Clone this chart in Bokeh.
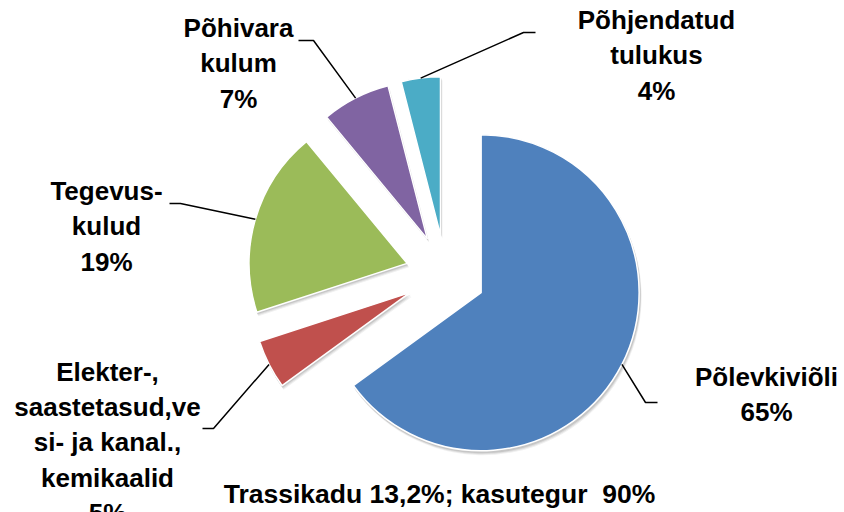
import numpy as np
from bokeh.plotting import figure
from bokeh.models import Range1d, ColumnDataSource
from bokeh.core.properties import value
from bokeh.embed import file_html
from bokeh.resources import INLINE

# ---- data ----
categories = ["Põlevkiviõli", "Elekter-,\nsaastetasud,ve\nsi- ja kanal.,\nkemikaalid",
              "Tegevus-\nkulud", "Põhivara\nkulum", "Põhjendatud\ntulukus"]
shares = [65, 5, 19, 7, 4]
pct_labels = ["65%", "5%", "19%", "7%", "4%"]
colors = ["#4F81BD", "#C0504D", "#9BBB59", "#8064A2", "#4BACC6"]
subtitle = "Trassikadu 13,2%; kasutegur\u00a0 90%"

# ---- layout (pixel space, y up) ----
W, H = 844, 512
CX, CY = 445, H - 274
R = 158
EXPLODE = 40

vals = np.array(shares, dtype=float)
frac = vals / vals.sum()
cum_end = np.cumsum(frac)
cum_start = cum_end - frac
# clockwise from 12 o'clock
start = np.pi / 2 - cum_end * 2 * np.pi
end = np.pi / 2 - cum_start * 2 * np.pi
mid = (start + end) / 2
xs = CX + EXPLODE * np.cos(mid)
ys = CY + EXPLODE * np.sin(mid)

p = figure(width=W, height=H, x_range=Range1d(0, W), y_range=Range1d(0, H),
           output_backend="svg", toolbar_location=None, min_border=0,
           x_axis_location=None, y_axis_location=None)
p.grid.visible = False
p.outline_line_color = None
p.background_fill_color = "white"
p.border_fill_color = "white"

# soft shadow
for k, a in [(4, 0.06), (3, 0.08), (2, 0.10)]:
    p.wedge(x=xs + k * 0.5, y=ys - k, radius=R + 0.5, start_angle=start, end_angle=end,
            fill_color="black", fill_alpha=a, line_color=None)

src = ColumnDataSource(dict(x=xs, y=ys, s=start, e=end, c=colors))
p.wedge(x="x", y="y", radius=R, start_angle="s", end_angle="e", fill_color="c",
        line_color="white", line_width=1.5, source=src)

# leader lines: start at arc midpoint of each slice
lx0 = xs + R * np.cos(mid)
ly0 = ys + R * np.sin(mid)
elbows = [(645, 402, 657, 402), (213, 428, 202, 428), (180, 203, 169, 203),
          (313, 40, 298, 40), (523, 32, 535, 32)]
for i, (ex, ey, fx, fy) in enumerate(elbows):
    p.line(x=[lx0[i], ex, fx], y=[ly0[i], H - ey, H - fy], line_color="black", line_width=1.5)

# labels
label_pos = [(766, 394), (107, 442), (106, 226), (238, 63), (656, 55)]
texts = [c + "\n" + pl for c, pl in zip(categories, pct_labels)]
p.text(x=[lp[0] for lp in label_pos], y=[H - lp[1] for lp in label_pos], text=texts,
       text_font=value("Liberation Sans"), text_font_style="bold", text_font_size="26px",
       text_align="center", text_baseline="middle", text_line_height=1.17, text_color="black")

p.text(x=[439], y=[H - 493], text=[subtitle],
       text_font=value("Liberation Sans"), text_font_style="bold", text_font_size="26.5px",
       text_align="center", text_baseline="middle", text_color="black")

open("out.html", "w").write(file_html(p, INLINE))
